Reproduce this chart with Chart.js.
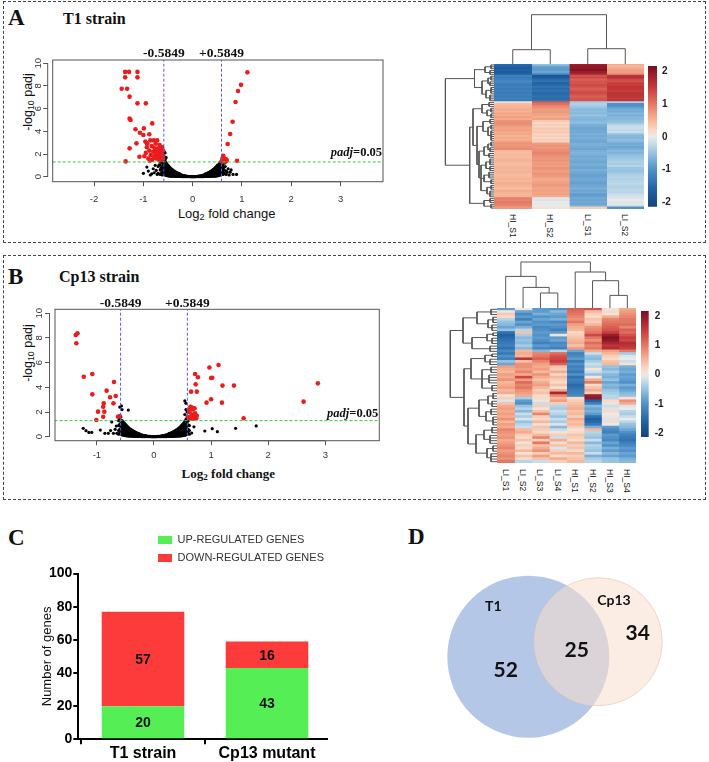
<!DOCTYPE html>
<html><head><meta charset="utf-8">
<script src="https://cdn.jsdelivr.net/npm/chart.js@4.4.1/dist/chart.umd.min.js"></script>
<style>
html,body{margin:0;padding:0;background:#fff;}
#root{position:relative;width:709px;height:762px;overflow:hidden;font-family:"Liberation Sans",Arial,sans-serif;color:#111;}
canvas{position:absolute;}
.t{position:absolute;white-space:nowrap;line-height:1;}
.serif{font-family:"Liberation Serif","Times New Roman",serif;font-weight:bold;}
.rot{transform:translate(-50%,-50%) rotate(-90deg);}
.ctr{transform:translate(-50%,-50%);}
.down{transform-origin:0 0;transform:rotate(90deg) translateY(-50%);font-size:8.5px;color:#111;}
sub{font-size:70%;vertical-align:-0.25em;line-height:0;}
.box{position:absolute;border:1px dashed #444;box-sizing:border-box;}
</style></head><body><div id="root">
<div class="box" style="left:3px;top:1px;width:703px;height:242px"></div>
<div class="box" style="left:3px;top:255px;width:703px;height:245px"></div>
<div class="t serif" style="left:8px;top:6px;font-size:23px">A</div>
<div class="t serif" style="left:63px;top:10.5px;font-size:16px">T1 strain</div>
<div class="t serif" style="left:8px;top:264.5px;font-size:23px">B</div>
<div class="t serif" style="left:59px;top:269px;font-size:16px">Cp13 strain</div>
<div class="t serif" style="left:8px;top:525.5px;font-size:23px">C</div>
<div class="t serif" style="left:408px;top:524.5px;font-size:23px">D</div>
<div class="t rot" style="left:28px;top:102px;font-size:12.5px">-log<sub>10</sub> padj</div>
<div class="t ctr" style="left:226.7px;top:213.3px;font-size:13px">Log<sub>2</sub> fold change</div>
<div class="t rot" style="left:28px;top:353px;font-size:12.5px">-log<sub>10</sub> padj</div>
<div class="t ctr serif" style="left:228.3px;top:472.7px;font-size:13px">Log<sub>2</sub> fold change</div>
</div>
<script>
// ===================== DATA =====================
const log2FcCutoff = 0.5849;
const padjCutoff = 0.05;
const volcanoTicksY = [0, 2, 4, 6, 8, 10];
const t1TicksX = [-2, -1, 0, 1, 2, 3];
const cp13TicksX = [-1, 0, 1, 2, 3];

// T1 volcano: significant genes (red) [log2FC, -log10 padj]
const t1Red = [[-1.37,9.24],[-1.29,9.24],[-1.37,8.76],[-1.12,9.24],[-1.12,8.76],[-1.44,7.76],[-1.33,7.76],[-1.28,7.06],[-1.12,6.47],[-0.95,6.47],
[-1.28,5.12],[-1.26,5.0],[-0.82,4.7],[-1.16,4.18],[-0.99,4.26],[-1.07,3.88],[-1.0,3.68],[-0.88,3.74],[-1.14,2.94],[-0.93,2.94],[-1.28,2.5],[-1.08,1.76],[-1.36,1.35],
[-0.98,1.8],[-0.95,2.1],[-0.93,2.6],[-0.9,1.6],[-0.88,2.3],[-0.86,3.2],[-0.85,1.9],[-0.83,2.7],[-0.82,1.5],[-0.8,2.2],[-0.79,3.2],[-0.78,1.7],[-0.77,2.5],[-0.76,1.9],
[-0.75,2.9],[-0.74,1.6],[-0.73,2.2],[-0.72,3.2],[-0.71,1.8],[-0.7,2.5],[-0.69,1.5],[-0.68,2.0],[-0.67,2.8],[-0.66,1.7],[-0.65,2.3],[-0.64,1.5],[-0.63,2.0],[-0.62,2.6],
[-0.61,1.8],[-0.6,2.3],[-0.6,1.6],[-0.87,1.4],[-0.92,2.9],[-0.96,3.1],
[1.11,9.2],[0.98,8.1],[0.92,7.56],[0.87,6.59],[0.81,4.85],[0.76,3.76],[0.71,2.88],[0.62,1.85],[0.69,1.47],[0.9,1.41],[0.64,1.6],[0.66,1.35],[0.6,1.5],[0.63,1.4],
[0.67,1.55],[0.61,1.7],[0.65,1.45],[0.6,1.35],[0.68,1.38],[0.62,1.32]];
// T1 volcano: non-significant genes, dense band (each row: log2FC, then -log10 padj values)
const t1Band = [[-0.70,0.3,0.9],[-0.66,0.2,0.6,1.0],[-0.64,0.3,0.75,1.3],[-0.62,0.15,0.45,0.8,1.2],[-0.60,0.3,0.65,1.0,1.5],[-0.58,0.2,0.5,0.85,1.2,1.8],
[-0.56,0.15,0.4,0.7,1.0,1.4,2.1],[-0.54,0.12,0.35,0.6,0.9,1.25,1.7],[-0.52,0.1,0.3,0.55,0.8,1.1],[-0.50,0.08,0.28,0.5,0.75,1.0],[-0.48,0.07,0.25,0.45,0.68,0.9],
[-0.46,0.06,0.22,0.4,0.6,0.8],[-0.44,0.05,0.2,0.36,0.55,0.72],[-0.42,0.05,0.18,0.32,0.48,0.64],[-0.40,0.04,0.16,0.3,0.44,0.58],[-0.38,0.04,0.15,0.27,0.4,0.52],
[-0.36,0.03,0.13,0.24,0.36,0.46],[-0.34,0.03,0.12,0.22,0.32,0.41],[-0.32,0.03,0.11,0.2,0.28,0.36],[-0.30,0.02,0.1,0.18,0.25,0.32],[-0.28,0.02,0.09,0.16,0.22,0.28],
[-0.26,0.02,0.08,0.14,0.2,0.25],[-0.24,0.02,0.07,0.12,0.18],[-0.22,0.01,0.06,0.11,0.15],[-0.20,0.01,0.05,0.1,0.13],[-0.18,0.01,0.05,0.09],[-0.16,0.01,0.04,0.08],
[-0.14,0.01,0.04,0.06],[-0.12,0.01,0.03,0.05],[-0.10,0.01,0.03],[-0.08,0.01,0.02],[-0.06,0.01,0.02],[-0.04,0.0,0.01],[-0.02,0.0,0.01],[0.00,0.0,0.01],
[0.02,0.0,0.01],[0.04,0.0,0.01],[0.06,0.01,0.02],[0.08,0.01,0.02],[0.10,0.01,0.03],[0.12,0.01,0.03,0.05],[0.14,0.01,0.04,0.06],[0.16,0.01,0.04,0.08],
[0.18,0.01,0.05,0.09],[0.20,0.01,0.05,0.1,0.13],[0.22,0.01,0.06,0.11,0.15],[0.24,0.02,0.07,0.12,0.18],[0.26,0.02,0.08,0.14,0.2,0.25],[0.28,0.02,0.09,0.16,0.22,0.28],
[0.30,0.02,0.1,0.18,0.25,0.32],[0.32,0.03,0.11,0.2,0.28,0.36],[0.34,0.03,0.12,0.22,0.32,0.41],[0.36,0.03,0.13,0.24,0.36,0.46],[0.38,0.04,0.15,0.27,0.4,0.52],
[0.40,0.04,0.16,0.3,0.44,0.58],[0.42,0.05,0.18,0.32,0.48,0.64],[0.44,0.05,0.2,0.36,0.55,0.72],[0.46,0.06,0.22,0.4,0.6,0.8],[0.48,0.07,0.25,0.45,0.68,0.9],
[0.50,0.08,0.28,0.5,0.75,1.0],[0.52,0.1,0.3,0.55,0.8,1.05],[0.54,0.12,0.35,0.6,0.9,1.15],[0.56,0.15,0.4,0.7,1.0,1.3],[0.58,0.2,0.5,0.85,1.1],[0.60,0.3,0.6,0.9,1.25],
[0.62,0.2,0.5,0.8],[0.64,0.3,0.6],[0.68,0.2,0.5]];
const t1Scatter = [[-1.0,0.3],[-0.93,0.85],[-0.83,0.25],[-0.9,0.5],[-0.86,0.15],[-0.8,0.7],[-0.78,0.35],[-0.76,1.0],[-0.74,0.55],[-0.72,0.2],[-0.68,1.05],[-0.66,1.3],
[-0.64,1.6],[-0.6,1.9],[-0.58,2.2],[-0.55,1.6],[0.66,0.9],[0.7,0.4],[0.72,0.7],[0.76,0.4],[0.78,0.6],[0.82,0.2],[0.89,0.2],[0.61,1.05],[0.65,1.2],[0.74,0.15]];

// Cp13 volcano
const cp13Red = [[-1.37,8.24],[-1.34,8.38],[-1.36,7.57],[-1.23,4.86],[-1.08,5.08],[-1.08,3.43],[-0.83,3.73],[-0.70,4.43],[-0.77,3.19],[-0.67,3.3],[-0.71,2.7],
[-0.88,2.7],[-0.89,2.43],[-0.98,2.03],[-0.87,2.03],[-0.89,1.62],[-1.01,1.35],[-0.63,1.62],[-0.6,1.68],
[0.72,5.08],[0.77,4.81],[0.73,4.24],[0.75,3.65],[0.65,3.65],[0.64,2.43],[0.97,5.6],[1.13,5.81],[1.02,4.78],[1.0,4.75],[1.2,4.14],[1.40,4.14],[0.92,2.76],[1.0,3.03],
[1.19,2.76],[1.57,1.49],[2.62,2.84],[2.87,4.32],[0.6,1.6],[0.62,2.0],[0.64,2.4],[0.65,1.5],[0.66,1.8],[0.68,2.2],[0.7,1.6],[0.72,1.9],[0.74,1.5],[0.75,1.7],
[0.63,1.45],[0.69,1.45],[0.71,2.3],[0.73,1.55],[0.61,2.2],[0.67,2.35]];
const cp13Band = [[-0.62,0.2,0.5,0.9,1.3],[-0.60,0.3,0.6,1.0,1.4,2.4],[-0.58,0.2,0.5,0.8,1.1,1.6],[-0.56,0.15,0.4,0.7,1.0,1.3,2.2],[-0.54,0.12,0.35,0.6,0.9,1.2],
[-0.52,0.1,0.3,0.55,0.8,1.1],[-0.50,0.08,0.28,0.5,0.75,1.0],[-0.48,0.07,0.25,0.45,0.68,0.9],[-0.46,0.06,0.22,0.4,0.6,0.8],[-0.44,0.05,0.2,0.36,0.55,0.72],
[-0.42,0.05,0.18,0.32,0.48,0.64],[-0.40,0.04,0.16,0.3,0.44,0.58],[-0.38,0.04,0.15,0.27,0.4,0.52],[-0.36,0.03,0.13,0.24,0.36,0.46],[-0.34,0.03,0.12,0.22,0.32,0.41],
[-0.32,0.03,0.11,0.2,0.28,0.36],[-0.30,0.02,0.1,0.18,0.25,0.32],[-0.28,0.02,0.09,0.16,0.22,0.28],[-0.26,0.02,0.08,0.14,0.2,0.25],[-0.24,0.02,0.07,0.12,0.18],
[-0.22,0.01,0.06,0.11,0.15],[-0.20,0.01,0.05,0.1,0.13],[-0.18,0.01,0.05,0.09],[-0.16,0.01,0.04,0.08],[-0.14,0.01,0.04,0.06],[-0.12,0.01,0.03,0.05],[-0.10,0.01,0.03],
[-0.08,0.01,0.02],[-0.06,0.01,0.02],[-0.04,0.0,0.01],[-0.02,0.0,0.01],[0.00,0.0,0.01],[0.02,0.0,0.01],[0.04,0.0,0.01],[0.06,0.01,0.02],[0.08,0.01,0.02],
[0.10,0.01,0.03],[0.12,0.01,0.03,0.05],[0.14,0.01,0.04,0.06],[0.16,0.01,0.04,0.08],[0.18,0.01,0.05,0.09],[0.20,0.01,0.05,0.1,0.13],[0.22,0.01,0.06,0.11,0.15],
[0.24,0.02,0.07,0.12,0.18],[0.26,0.02,0.08,0.14,0.2,0.25],[0.28,0.02,0.09,0.16,0.22,0.28],[0.30,0.02,0.1,0.18,0.25,0.32],[0.32,0.03,0.11,0.2,0.28,0.36],
[0.34,0.03,0.12,0.22,0.32,0.41],[0.36,0.03,0.13,0.24,0.36,0.46],[0.38,0.04,0.15,0.27,0.4,0.52],[0.40,0.04,0.16,0.3,0.44,0.58],[0.42,0.05,0.18,0.32,0.48,0.64],
[0.44,0.05,0.2,0.36,0.55,0.72],[0.46,0.06,0.22,0.4,0.6,0.8],[0.48,0.07,0.25,0.45,0.68,0.9],[0.50,0.08,0.28,0.5,0.75,1.0],[0.52,0.1,0.3,0.55,0.8,1.1],
[0.54,0.12,0.35,0.6,0.9,1.25,1.8],[0.56,0.15,0.4,0.7,1.0,1.4,2.2,2.7],[0.58,0.2,0.5,0.85,1.2,1.6,2.0],[0.60,0.3,0.6,0.95,1.3],[0.62,0.2,0.5,0.9]];
const cp13Scatter = [[-1.24,0.68],[-1.19,0.49],[-1.14,0.35],[-1.09,0.35],[-0.94,0.54],[-0.86,0.27],[-0.8,0.27],[-0.71,0.27],[-0.65,0.27],[-0.66,0.86],[-0.74,1.2],
[-0.76,0.5],[-0.68,0.6],[-0.45,2.16],[-0.57,2.49],[0.54,2.9],[0.89,0.46],[1.02,0.65],[1.11,0.41],[1.43,0.68],[1.79,0.87],[0.66,0.3],[0.7,0.8]];

// Heatmap A (row z-scores): HI_S1, HI_S2, LI_S1, LI_S2
const heatA_samples = ['HI_S1','HI_S2','LI_S1','LI_S2'];
const heatA_rows = [
[-1.5,-0.5,1.9,0.6],[-1.6,-0.8,2.0,0.5],[-1.7,-0.9,2.0,0.6],[-1.6,-0.9,2.1,0.7],[-1.7,-0.8,1.9,0.7],[-1.6,-1.0,1.8,0.8],[-1.2,-1.8,1.3,1.6],[-1.3,-1.7,1.4,1.7],
[-1.2,-1.5,1.2,1.4],[-1.1,-1.4,1.3,1.3],[-1.2,-1.6,1.3,1.5],[-1.3,-1.5,1.4,1.5],[-1.2,-1.4,1.3,1.6],[-1.3,-1.5,1.2,1.6],[-1.2,-1.4,1.3,1.5],[-1.3,-1.5,1.4,1.6],
[-1.2,-1.5,1.3,1.6],[-1.3,-1.4,1.2,1.6],[-1.2,-1.5,1.3,1.5],[-1.3,-1.4,1.3,1.6],
[0.12,1.2,-0.4,-0.35],[0.45,1.05,-0.35,-1.0],[0.5,0.9,-0.4,-1.0],[0.55,0.8,-0.5,-0.85],[0.6,0.7,-0.6,-0.7],[0.55,0.75,-0.55,-0.75],[0.65,0.7,-0.6,-0.6],
[0.6,0.65,-0.5,-0.7],[0.7,0.6,-0.6,-0.6],[0.6,0.7,-0.65,-0.6],[0.8,0.35,-0.6,-0.55],[0.85,0.2,-0.55,-0.5],[0.8,0.3,-0.7,-0.3],[0.7,0.25,-0.75,-0.2],
[0.65,0.35,-0.8,-0.2],[0.7,0.3,-0.75,-0.25],[0.6,0.35,-0.75,-0.2],[0.65,0.25,-0.7,-0.5],[0.55,0.3,-0.75,-0.6],[0.6,0.2,-0.7,-0.65],[0.55,0.3,-0.75,-0.55],
[0.7,0.25,-0.8,-0.6],[0.8,0.7,-0.7,-0.75],[0.75,0.8,-0.7,-0.7],[0.8,0.75,-0.75,-0.8],[0.85,0.8,-0.8,-0.7],[0.5,0.85,-0.7,-0.6],[0.45,0.9,-0.65,-0.65],
[0.5,0.85,-0.7,-0.55],[0.45,0.8,-0.75,-0.5],[0.5,0.75,-0.7,-0.45],[0.55,0.8,-0.75,-0.4],[0.5,0.7,-0.8,-0.35],[0.45,0.75,-0.7,-0.4],[0.5,0.7,-0.75,-0.3],
[0.55,0.8,-0.8,-0.45],[0.5,0.75,-0.7,-0.5],[0.55,0.7,-0.75,-0.5],[0.5,0.8,-0.8,-0.4],[0.45,0.75,-0.85,-0.35],[0.5,0.7,-0.8,-0.3],[0.55,0.6,-0.75,-0.35],
[0.5,0.65,-0.8,-0.3],[0.6,0.7,-0.85,-0.25],[0.55,0.75,-0.8,-0.3],[0.5,0.7,-0.75,-0.35],[0.45,0.65,-0.7,-0.3],[0.6,0.7,-0.8,-0.25],[0.55,0.65,-0.75,-0.3],
[0.5,0.7,-0.9,-0.2],[0.55,0.6,-0.85,-0.15],[0.95,-0.05,-0.75,-0.1],[0.9,-0.1,-0.8,0.0],[1.0,0.0,-0.75,-0.1],[0.95,-0.05,-0.8,-0.05],[0.9,0.0,-0.7,-0.15],
[0.75,0.1,0.3,-1.0]];
// dendrograms: node = [height, child, child, ...]; leaf = row/column index
const heatA_rowTree = [48.6,
  [19.5, [9,[3,0,1,2],[4,3,4,5]], [12,[6,[3,6,7,8],[4,9,10,11]],[8,[3,12,13,14,15],[4,16,17,18,19]]]],
  [24.3,
    [21,
      [12,[5,20,21,22],[7,[3,23,24,25],[3,26,27,28]]],
      [17,
        [11,[4,29,30,31],[6,[3,32,33,34],[3,35,36,37,38,39,40]]],
        [15,
          [10,[6,[3,41,42,43],[4,44,45,46]],[5,47,48,49]],
          [13,[8,[4,50,51,52,53],[4,54,55,56]],[10,[5,57,58,59,60],[3,61,62,63]],[7,[3,64,65,66],[4,67,68,69,70]]]]]],
    [10,[4,71,72,73],[3,74,75,76]]]];
const heatA_colTree = [49.3, [14.3, 0, 1], [15.3, 2, 3]];
const colorbarA = [-2.14, 2.17];

// Heatmap B: LI_S1..S4, HI_S1..S4
const heatB_samples = ['LI_S1','LI_S2','LI_S3','LI_S4','HI_S1','HI_S2','HI_S3','HI_S4'];
const heatB_rows = [
[-0.9,0.0,-0.9,-1.0,1.2,1.3,0.1,0.6],[0.1,-0.8,-0.9,-0.6,1.1,0.5,0.2,0.7],[0.35,-1.1,-0.7,-0.8,1.0,0.3,0.1,0.8],[0.2,-0.9,-1.0,-0.9,0.9,0.2,0.6,0.9],
[-0.3,-1.2,-0.8,-0.7,0.8,0.4,0.9,1.0],[-0.5,-0.8,-1.0,-1.1,1.0,0.3,1.0,1.0],[-0.6,-1.0,-0.9,-0.9,0.7,0.5,1.1,1.1],[-0.8,-0.7,-1.1,-1.0,0.6,0.8,1.2,0.9],
[-0.5,-0.3,-1.0,-1.2,0.5,0.9,1.3,1.2],[-1.4,0.4,-0.9,-0.9,0.2,1.0,1.5,1.1],[-1.6,-0.4,-1.0,0.1,0.3,1.4,1.9,1.3],[-1.5,-0.6,-0.9,-0.9,0.4,1.0,2.1,1.5],
[-1.4,-0.5,-1.0,-0.8,0.5,0.8,2.0,1.4],[-1.3,-0.6,-1.2,-1.1,0.6,1.1,1.8,1.7],[-1.2,-0.4,-0.9,-1.0,0.4,0.9,1.6,1.6],[-1.4,-0.6,-1.1,-1.2,0.7,1.0,1.7,1.5],
[-1.1,0.5,-0.6,-0.3,-0.8,0.6,0.7,1.0],[-1.3,0.6,0.9,1.1,-1.2,-0.2,0.5,-0.4],[-1.0,0.5,1.0,1.3,-1.1,-0.5,0.3,-0.1],[-1.2,1.6,1.2,1.4,-0.9,-0.6,0.2,0.0],
[-0.5,0.4,0.9,1.5,-1.3,-0.4,0.4,-0.2],[-0.8,0.8,0.7,1.2,-1.0,-0.2,0.5,0.1],[0.7,0.8,0.6,0.4,-1.2,-0.3,-0.5,-0.7],[0.6,0.7,0.7,0.3,-1.1,0.1,-0.6,-0.8],
[0.5,0.9,0.5,0.6,-1.3,-0.2,-0.4,-0.7],[0.7,0.6,0.8,0.2,-1.0,-0.5,-0.6,-0.9],[0.6,1.4,0.6,0.5,-1.4,0.0,-0.7,-0.8],[0.8,0.7,0.4,0.3,-1.2,0.6,-0.5,-0.9],
[0.5,1.1,0.6,0.2,-1.3,1.0,-0.8,-1.0],[0.6,0.9,0.7,0.4,-1.5,0.2,-0.6,-0.7],[0.7,1.0,0.5,0.1,-1.4,0.4,-0.7,-0.9],[0.5,0.8,0.3,0.6,-1.3,0.6,-0.5,-0.8],
[0.6,0.7,0.4,1.8,-1.2,0.3,-0.4,-0.6],[0.1,0.6,0.2,0.9,-1.1,1.9,-0.3,-0.5],[0.3,-0.4,0.2,0.5,0.2,2.0,-0.3,0.1],[-0.1,-0.9,0.1,0.7,0.3,-1.6,0.2,0.8],
[0.4,-1.0,-0.2,0.3,0.4,-1.2,0.1,0.6],[0.6,-0.5,0.3,-0.3,0.5,-0.6,-0.2,-0.1],[0.7,-0.3,0.1,-0.4,0.6,-0.8,-0.1,0.0],[0.6,-0.6,0.4,-0.2,0.4,-0.7,0.2,-0.3],
[0.7,-0.2,0.9,-0.3,0.5,-0.9,0.0,-0.4],[0.6,-0.4,0.3,-0.5,0.3,-1.4,0.1,-0.2],[0.8,-0.1,0.2,-0.2,0.6,-1.6,-0.1,0.0],[0.5,-0.5,0.5,-0.4,0.4,-1.5,0.2,-0.3],
[0.7,-0.3,0.1,-0.1,0.5,-1.3,0.0,-0.5],[0.6,-0.2,0.4,-0.6,0.3,-0.7,-0.9,-0.6],[0.9,0.5,0.3,-0.2,0.1,0.5,-1.1,-0.8],[0.8,0.6,0.2,0.1,0.2,-0.3,-1.2,-1.0],
[0.7,0.3,0.5,0.3,0.4,-0.4,-0.9,-1.2],[0.8,0.2,0.9,-0.2,0.3,-0.5,-1.0,-1.3],[0.6,0.4,0.3,0.6,0.2,-0.2,-1.1,-1.4],[0.7,0.1,1.0,0.2,0.5,-0.6,-0.8,-1.2],
[0.8,0.3,0.4,0.4,0.3,-0.3,-1.0,-1.1],[0.9,0.2,0.6,-0.1,0.4,-0.4,-0.7,-0.9],[0.7,0.5,0.8,0.3,0.2,-0.5,-0.9,-1.0],[0.8,0.1,0.3,0.5,0.5,-0.2,-0.6,-0.8],
[0.9,0.4,0.7,0.2,0.3,-0.7,-0.8,-0.9],[0.8,0.2,0.4,0.6,0.4,-0.4,-0.5,-0.7],[1.0,-0.3,-0.2,0.3,0.5,-0.3,-0.5,-0.6]];
const heatB_rowTree = [46.7,
  [34, [20,[6,0,1,2],[9,[4,3,4,5],[5,6,7,8]]], [25,[10,[4,9,10],[5,11,12,13]],[7,14,15,16]]],
  [33,
    [26, [12,[5,17,18],[7,19,20,21]], [15,[6,22,23,24],[8,25,26,27,28],[5,29,30,31]]],
    [29,
      [18,[9,[4,32,33,34],[5,35,36,37]],[11,[6,38,39,40],[4,41,42,43,44]]],
      [21,[13,[5,45,46,47],[7,48,49,50,51]],[10,[4,52,53,54],[6,55,56,57,58]]]]]];
const heatB_colTree = [46, [31.6, 0, [20.6, 1, [15, 2, 3]]], [36, 4, [27.3, 5, [12.6, 6, 7]]]];
const colorbarB = [-2.13, 2.17];
const colorbarTicks = [2, 1, 0, -1, -2];

// Panel C
const strains = ['T1 strain', 'Cp13 mutant'];
const upGenes = [20, 43];
const downGenes = [57, 16];
const barTicksY = [0, 20, 40, 60, 80, 100];

// Panel D
const vennSets = ['T1', 'Cp13'];
const vennCounts = [52, 25, 34]; // T1 only, shared, Cp13 only

// ===================== STYLE / LAYOUT =====================
Chart.defaults.font.family = '"Liberation Sans", Arial, sans-serif';
Chart.defaults.color = '#222';
const root = document.getElementById('root');
function addCanvas(left, top, w, h) {
  const c = document.createElement('canvas');
  c.width = w; c.height = h;
  c.style.left = left + 'px'; c.style.top = top + 'px';
  c.style.width = w + 'px'; c.style.height = h + 'px';
  root.appendChild(c);
  return c;
}
const baseOpts = () => ({responsive: false, animation: false, events: [], layout: {padding: 0, autoPadding: false},
  plugins: {legend: {display: false}, tooltip: {enabled: false}}});

const heatStops = [[-2.2,[22,62,122]],[-1.6,[33,98,165]],[-1.0,[80,145,200]],[-0.5,[150,195,225]],[-0.15,[210,225,236]],[0,[236,234,232]],
  [0.2,[248,218,200]],[0.6,[244,172,140]],[1.0,[226,120,100]],[1.5,[200,60,60]],[2.2,[120,10,32]]];
function heatColor(v) {
  if (v <= heatStops[0][0]) return 'rgb(' + heatStops[0][1].join(',') + ')';
  for (let i = 1; i < heatStops.length; i++) {
    const [v1, c1] = heatStops[i], [v0, c0] = heatStops[i - 1];
    if (v <= v1) {
      const t = (v - v0) / (v1 - v0);
      return 'rgb(' + c0.map((c, k) => Math.round(c + (c1[k] - c) * t)).join(',') + ')';
    }
  }
  return 'rgb(' + heatStops[heatStops.length - 1][1].join(',') + ')';
}

// ---------- Volcano ----------
const volcanoDeco = {
  id: 'volcanoDeco',
  afterDatasetsDraw(chart, args, o) {
    const {ctx, chartArea: a, scales: {x, y}} = chart;
    ctx.save();
    ctx.strokeStyle = '#555'; ctx.lineWidth = 1;
    ctx.strokeRect(a.left + o.inset, a.top, a.right - a.left - o.inset, a.bottom - a.top);
    ctx.beginPath();
    ctx.moveTo(x.getPixelForValue(o.xTicks[0]), a.bottom);
    ctx.lineTo(x.getPixelForValue(o.xTicks[o.xTicks.length - 1]), a.bottom);
    ctx.moveTo(a.left, y.getPixelForValue(volcanoTicksY[0]));
    ctx.lineTo(a.left, y.getPixelForValue(volcanoTicksY[volcanoTicksY.length - 1]));
    ctx.stroke();
    ctx.fillStyle = '#111';
    ctx.font = 'bold 13.5px "Liberation Serif"';
    ctx.textAlign = 'center'; ctx.textBaseline = 'alphabetic';
    ctx.fillText('-' + log2FcCutoff, x.getPixelForValue(-log2FcCutoff), a.top - o.labelGap);
    ctx.fillText('+' + log2FcCutoff, x.getPixelForValue(log2FcCutoff), a.top - o.labelGap);
    const yl = y.getPixelForValue(-Math.log10(padjCutoff)) - o.padjGap;
    ctx.font = 'bold 12.5px "Liberation Serif"';
    const t2 = '=' + padjCutoff;
    const w2 = ctx.measureText(t2).width;
    ctx.textAlign = 'right';
    ctx.fillText(t2, a.right - 1, yl);
    ctx.font = 'italic bold 12.5px "Liberation Serif"';
    ctx.fillText('padj', a.right - 1 - w2, yl);
    ctx.restore();
  }
};
function volcanoChart(canvas, cfg) {
  const pts = arr => arr.map(([x, y]) => ({x, y}));
  const band = rows => rows.flatMap(([x, ...ys]) => ys.map(y => ({x, y})));
  const hl = -Math.log10(padjCutoff);
  const vline = v => ({data: [{x: v, y: cfg.yMin}, {x: v, y: cfg.yMax}], showLine: true, borderColor: '#5a5ae6', borderWidth: 1, borderDash: [3, 2], pointRadius: 0});
  const o = baseOpts();
  o.layout = {padding: {left: 0, top: cfg.padTop, right: cfg.padRight, bottom: 0}, autoPadding: false};
  o.plugins.volcanoDeco = {inset: cfg.inset, xTicks: cfg.xTicks, labelGap: cfg.labelGap, padjGap: cfg.padjGap};
  const grid = {drawOnChartArea: false, tickLength: 4.5, color: '#555', lineWidth: 1};
  o.scales = {
    x: {type: 'linear', min: cfg.xMin, max: cfg.xMax, afterFit: s => { s.height = cfg.xH; },
      afterBuildTicks: s => { s.ticks = cfg.xTicks.map(v => ({value: v})); },
      grid, border: {display: false},
      ticks: {font: {size: 9.5}, color: '#333', padding: cfg.xPad, maxRotation: 0, autoSkip: false}},
    y: {type: 'linear', min: cfg.yMin, max: cfg.yMax, afterFit: s => { s.width = cfg.yW; },
      afterBuildTicks: s => { s.ticks = volcanoTicksY.map(v => ({value: v})); },
      grid, border: {display: false},
      ticks: {font: {size: 9.5}, color: '#333', padding: 0, minRotation: 90, maxRotation: 90, crossAlign: 'center', autoSkip: false}}
  };
  return new Chart(canvas, {
    type: 'scatter',
    data: {datasets: [
      vline(-log2FcCutoff), vline(log2FcCutoff),
      {data: [{x: cfg.xMin, y: hl}, {x: cfg.xMax, y: hl}], showLine: true, borderColor: '#3cc83c', borderWidth: 1, borderDash: [3, 2], pointRadius: 0,
       clip: {left: -cfg.inset, top: 0, right: 0, bottom: 0}},
      {data: pts(cfg.red), backgroundColor: '#ec1c1c', pointRadius: 2.3, borderWidth: 0},
      {data: band(cfg.band).concat(pts(cfg.scatter)), backgroundColor: '#000', pointRadius: 1.6, borderWidth: 0}
    ]},
    options: o,
    plugins: [volcanoDeco]
  });
}
volcanoChart(addCanvas(0, 40, 400, 190), {red: t1Red, band: t1Band, scatter: t1Scatter, xTicks: t1TicksX,
  xMin: -2.941, xMax: 3.861, yMin: -0.44, yMax: 10.29, padTop: 20, padRight: 17, yW: 47.7, xH: 48.3, xPad: 7.5, inset: 5, labelGap: 2.7, padjGap: 6});
volcanoChart(addCanvas(0, 280, 400, 220), {red: cp13Red, band: cp13Band, scatter: cp13Scatter, xTicks: cp13TicksX,
  xMin: -1.83, xMax: 3.946, yMin: -0.324, yMax: 10.32, padTop: 29.3, padRight: 20.7, yW: 49.5, xH: 59.3, xPad: 4.2, inset: 5.5, labelGap: 2, padjGap: 4});

// ---------- Heatmaps ----------
function heatmapChart(canvas, rows, nCols) {
  const datasets = [];
  for (let j = 0; j < nCols; j++) {
    datasets.push({data: rows.map(() => [j, j + 1]), backgroundColor: rows.map(r => heatColor(r[j])), borderWidth: 0,
      barPercentage: 1, categoryPercentage: 1, grouped: false, inflateAmount: 0.5});
  }
  const o = baseOpts();
  o.indexAxis = 'y';
  o.scales = {x: {type: 'linear', min: 0, max: nCols, display: false}, y: {type: 'category', display: false}};
  return new Chart(canvas, {type: 'bar', data: {labels: rows.map((_, i) => 'gene ' + (i + 1)), datasets}, options: o});
}
function dendroPoints(tree, horizontal) {
  const pts = [];
  const gap = {x: null, y: null};
  const P = (h, pos) => horizontal ? {x: h, y: pos} : {x: pos, y: h};
  function walk(node) {
    if (typeof node === 'number') return {pos: node + 0.5, h: 0};
    const [h, ...kids] = node;
    const ks = kids.map(walk);
    const ps = ks.map(k => k.pos);
    const lo = Math.min(...ps), hi = Math.max(...ps);
    ks.forEach(k => { pts.push(P(k.h, k.pos), P(h, k.pos), gap); });
    pts.push(P(h, lo), P(h, hi), gap);
    return {pos: (lo + hi) / 2, h};
  }
  walk(tree);
  return pts;
}
function dendroChart(canvas, tree, horizontal, nLeaves) {
  const o = baseOpts();
  o.scales = horizontal
    ? {x: {type: 'linear', min: 0, max: canvas.width, reverse: true, display: false}, y: {type: 'linear', min: 0, max: nLeaves, reverse: true, display: false}}
    : {x: {type: 'linear', min: 0, max: nLeaves, display: false}, y: {type: 'linear', min: 0, max: canvas.height, display: false}};
  return new Chart(canvas, {type: 'scatter', data: {datasets: [{data: dendroPoints(tree, horizontal), showLine: true, borderColor: '#555',
    borderWidth: 1, pointRadius: 0, spanGaps: false, clip: false}]}, options: o});
}
function colorbarChart(canvas, range, yW, padTop, padBottom, labelPad) {
  const o = baseOpts();
  o.layout = {padding: {left: 0, right: 0, top: padTop, bottom: padBottom}, autoPadding: false};
  o.scales = {
    x: {type: 'category', display: false},
    y: {type: 'linear', position: 'right', min: range[0], max: range[1], afterFit: s => { s.width = yW; },
      afterBuildTicks: s => { s.ticks = colorbarTicks.map(v => ({value: v})); },
      grid: {display: false, drawTicks: false}, border: {display: false},
      ticks: {font: {size: 10, weight: 'bold'}, color: '#222', padding: labelPad, autoSkip: false}}
  };
  const fill = ctx => {
    const ch = ctx.chart;
    if (!ch.chartArea) return '#ddd';
    const ys = ch.scales.y;
    const g = ch.ctx.createLinearGradient(0, ys.getPixelForValue(range[0]), 0, ys.getPixelForValue(range[1]));
    for (let i = 0; i <= 40; i++) g.addColorStop(i / 40, heatColor(range[0] + (range[1] - range[0]) * i / 40));
    return g;
  };
  return new Chart(canvas, {type: 'bar', data: {labels: ['z'], datasets: [{data: [range], backgroundColor: fill, borderWidth: 0,
    barPercentage: 1, categoryPercentage: 1}]}, options: o});
}
function sampleLabels(chart, canvasLeft, top, names) {
  names.forEach((n, j) => {
    const d = document.createElement('div');
    d.className = 't down';
    d.textContent = n;
    d.style.left = (canvasLeft + chart.scales.x.getPixelForValue(j + 0.5)) + 'px';
    d.style.top = top + 'px';
    root.appendChild(d);
  });
}
const hmA = heatmapChart(addCanvas(494, 64, 150, 145), heatA_rows, 4);
dendroChart(addCanvas(444, 64, 50, 145), heatA_rowTree, true, heatA_rows.length);
dendroChart(addCanvas(494, 13, 150, 51), heatA_colTree, false, 4);
colorbarChart(addCanvas(648, 55, 40, 165), colorbarA, 31, 10.7, 13.3, 5);
sampleLabels(hmA, 494, 214, heatA_samples);

const hmB = heatmapChart(addCanvas(497, 308, 139, 155), heatB_rows, 8);
dendroChart(addCanvas(448, 308, 49, 155), heatB_rowTree, true, heatB_rows.length);
dendroChart(addCanvas(497, 260, 139, 48), heatB_colTree, false, 8);
colorbarChart(addCanvas(641, 299, 40, 150), colorbarB, 32.3, 10.3, 9.7, 6);
sampleLabels(hmB, 497, 469, heatB_samples);

// ---------- Panel C ----------
const legendShift = {id: 'legendShift', afterLayout(chart, args, o) {
  if (chart.legend) { chart.legend.left += o.dx; chart.legend.right += o.dx; }
}};
const barValues = {id: 'barValues', afterDatasetsDraw(chart) {
  const {ctx} = chart;
  ctx.save();
  ctx.font = 'bold 14px "Liberation Sans"'; ctx.fillStyle = '#111'; ctx.textAlign = 'center'; ctx.textBaseline = 'middle';
  chart.data.datasets.forEach((ds, i) => {
    chart.getDatasetMeta(i).data.forEach((bar, j) => {
      ctx.fillText(String(ds.data[j].y), bar.x, (bar.y + bar.base) / 2 + 1);
    });
  });
  ctx.restore();
}};
(function () {
  const o = baseOpts();
  o.layout = {padding: {left: 0, top: 2.5, right: 8, bottom: 0}, autoPadding: false};
  o.plugins.legend = {display: true, position: 'top', align: 'start',
    labels: {boxWidth: 14, boxHeight: 8, padding: 7, color: '#333', font: {size: 11}}};
  o.plugins.legendShift = {dx: 151};
  const axisGrid = {drawOnChartArea: false, tickLength: 5, color: '#000', lineWidth: 2};
  o.scales = {
    x: {type: 'linear', min: -0.5218, max: 1.4838, offset: false, afterFit: s => { s.height = 22.7; },
      afterBuildTicks: s => { s.ticks = strains.map((_, i) => ({value: i})); },
      ticks: {callback: v => strains[v], font: {size: 16, weight: 'bold'}, color: '#000', padding: 0, maxRotation: 0, autoSkip: false},
      grid: axisGrid, border: {color: '#000', width: 2}},
    y: {type: 'linear', min: 0, max: 100, afterFit: s => { s.width = 78.3; },
      afterBuildTicks: s => { s.ticks = barTicksY.map(v => ({value: v})); },
      ticks: {font: {size: 14, weight: 'bold'}, color: '#000', padding: 1},
      grid: axisGrid, border: {color: '#000', width: 2},
      title: {display: true, text: 'Number of genes', font: {size: 13}, color: '#111', padding: {top: 40, bottom: 0}}}
  };
  new Chart(addCanvas(0, 525, 335, 237), {
    type: 'bar',
    data: {datasets: [
      {label: 'UP-REGULATED GENES', data: strains.map((s, i) => ({x: i, y: upGenes[i]})), backgroundColor: '#55ef55', borderWidth: 0, stack: 's', barPercentage: 0.666, categoryPercentage: 1},
      {label: 'DOWN-REGULATED GENES', data: strains.map((s, i) => ({x: i, y: downGenes[i]})), backgroundColor: '#fd3b3b', borderWidth: 0, stack: 's', barPercentage: 0.666, categoryPercentage: 1}
    ]},
    options: o,
    plugins: [legendShift, barValues]
  });
})();

// ---------- Panel D ----------
const vennLayout = {circles: [{x: 128.3, y: 96.7, r: 81}, {x: 198.3, y: 81.7, r: 64}],
  labelPos: [[93.3, 46.7], [214, 40]], countPos: [[105.7, 110.7], [176.7, 90.7], [237.7, 73.3]]};
const vennText = {id: 'vennText', afterDatasetsDraw(chart, args, o) {
  const {ctx, scales: {x, y}} = chart;
  ctx.save();
  ctx.fillStyle = '#111'; ctx.textAlign = 'center'; ctx.textBaseline = 'middle';
  ctx.font = 'bold 14px Lato';
  vennSets.forEach((s, i) => ctx.fillText(s, x.getPixelForValue(vennLayout.labelPos[i][0]), y.getPixelForValue(vennLayout.labelPos[i][1])));
  ctx.font = 'bold 21px Lato';
  vennCounts.forEach((c, i) => ctx.fillText(String(c), x.getPixelForValue(vennLayout.countPos[i][0]), y.getPixelForValue(vennLayout.countPos[i][1])));
  ctx.restore();
}};
(function () {
  const cv = addCanvas(400, 560, 309, 202);
  const o = baseOpts();
  o.scales = {x: {type: 'linear', min: 0, max: cv.width, display: false}, y: {type: 'linear', min: 0, max: cv.height, reverse: true, display: false}};
  new Chart(cv, {
    type: 'bubble',
    data: {datasets: [
      {label: vennSets[0], data: [Object.assign({}, vennLayout.circles[0])], backgroundColor: '#b4c7e7', borderWidth: 0, order: 2, clip: false},
      {label: vennSets[1], data: [Object.assign({}, vennLayout.circles[1])], backgroundColor: 'rgba(250,222,206,0.55)', borderColor: 'rgba(240,205,188,0.8)', borderWidth: 1, order: 1, clip: false}
    ]},
    options: o,
    plugins: [vennText]
  });
})();
</script></body></html>
